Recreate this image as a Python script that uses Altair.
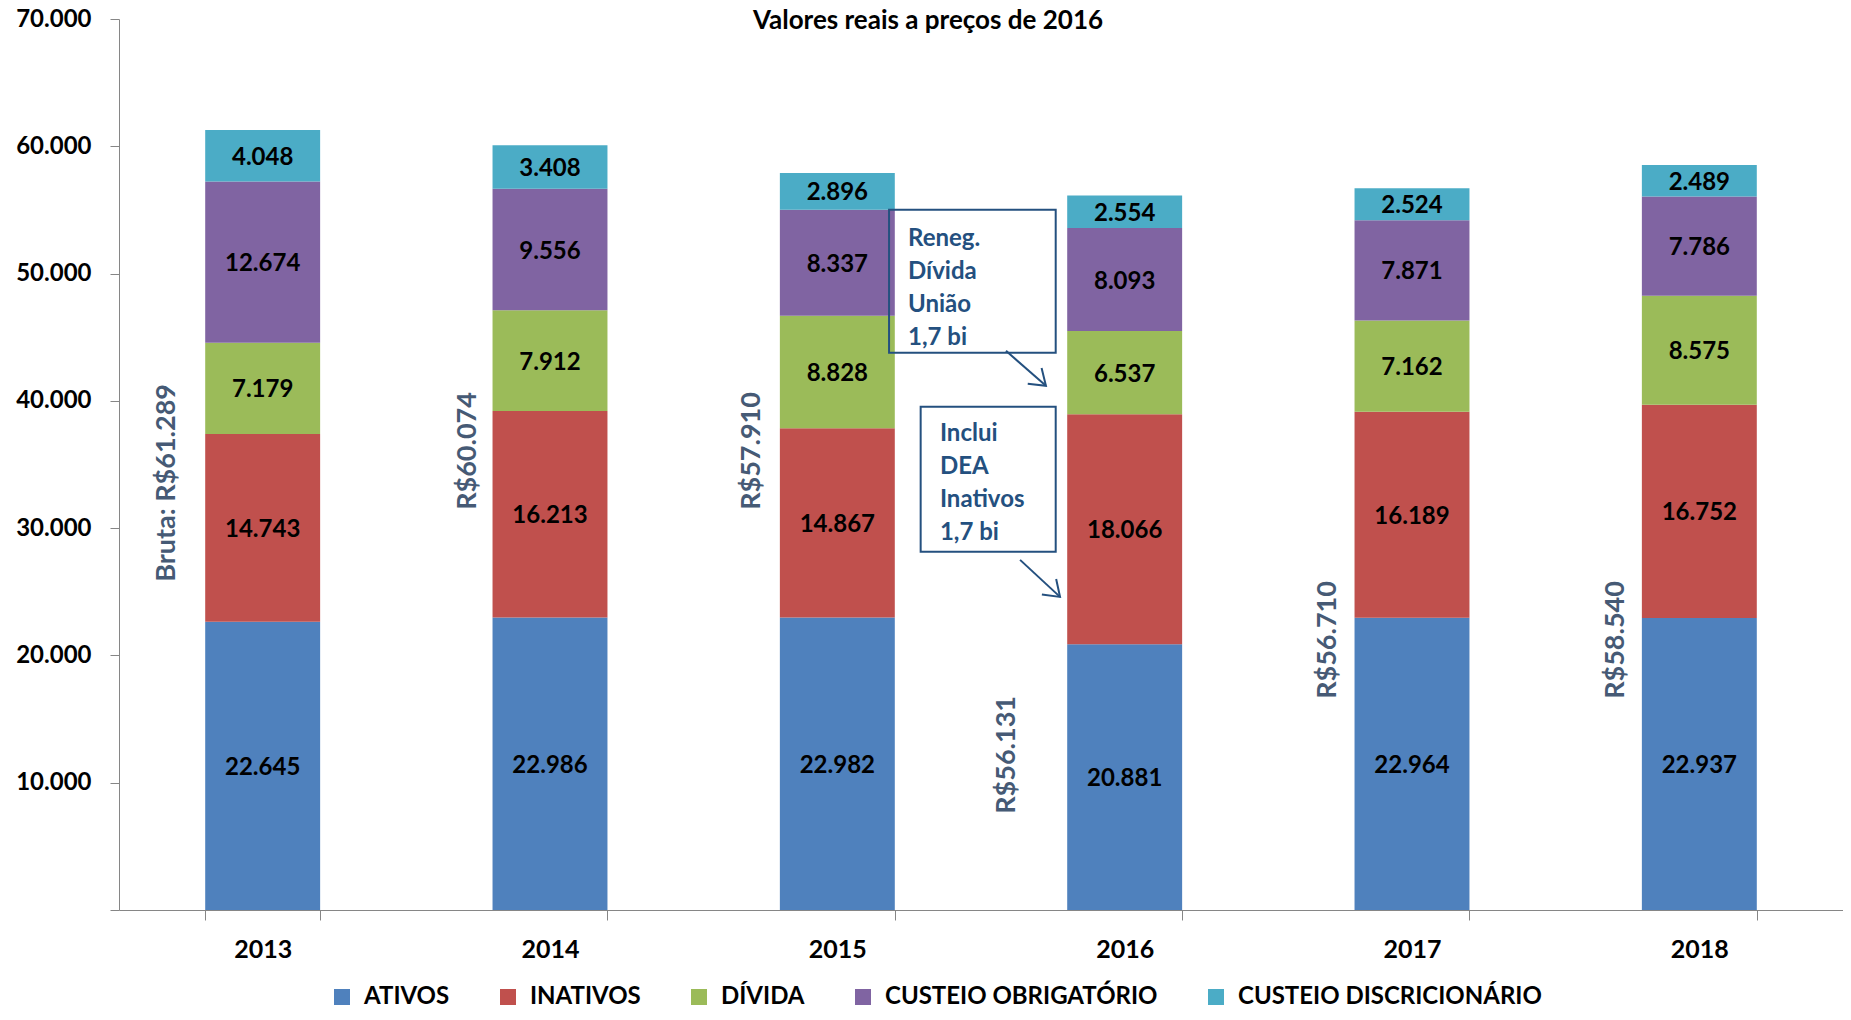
import math
import altair as alt
import pandas as pd

# ---------------- data ----------------
years = ["2013", "2014", "2015", "2016", "2017", "2018"]
series = ["ATIVOS", "INATIVOS", "DÍVIDA", "CUSTEIO OBRIGATÓRIO", "CUSTEIO DISCRICIONÁRIO"]
colors = ["#4F81BD", "#C0504D", "#9BBB59", "#8064A2", "#4BACC6"]

ativos = [22645, 22986, 22982, 20881, 22964, 22937]
inativos = [14743, 16213, 14867, 18066, 16189, 16752]
divida = [7179, 7912, 8828, 6537, 7162, 8575]
custeio_obr = [12674, 9556, 8337, 8093, 7871, 7786]
custeio_disc = [4048, 3408, 2896, 2554, 2524, 2489]

title_text = "Valores reais a preços de 2016"

# totals written vertically beside each bar (x in category units 0..6, y in R$ units)
total_labels = ["Bruta: R$61.289", "R$60.074", "R$57.910", "R$56.131", "R$56.710", "R$58.540"]
total_label_x = [0.167, 1.216, 2.203, 3.090, 4.208, 5.210]
total_label_y = [25780, 31440, 31440, 7560, 16590, 16590]

# call-out notes
note_texts = ["Reneg.\nDívida\nUnião\n1,7 bi", "Inclui\nDEA\nInativos\n1,7 bi"]
note_x = [2.746, 2.857]
note_y = [53640, 38310]
box_x1 = [2.680, 2.790]
box_x2 = [3.260, 3.260]
box_y1 = [55010, 39530]
box_y2 = [43775, 28136]
arrow_x1 = [3.087, 3.136]
arrow_y1 = [43932, 27507]
arrow_x2 = [3.226, 3.275]
arrow_y2 = [41182, 24599]

# ---------------- layout ----------------
W, H = 1724, 891
STEP = W / 6.0
PX_PER_UNIT_Y = H / 70000.0
FONT = "Lato"
NOTE_COLOR = "#24507F"
TOTAL_COLOR = "#465A75"
AXIS_COLOR = "#868686"

values_by_series = [ativos, inativos, divida, custeio_obr, custeio_disc]
rows = []
for i, yr in enumerate(years):
    for j, s in enumerate(series):
        v = values_by_series[j][i]
        rows.append({"year": yr, "serie": s, "ord": j, "value": v,
                     "label": f"{v:,}".replace(",", ".")})
df = pd.DataFrame(rows)

tot_df = pd.DataFrame({"t": total_labels, "x": total_label_x, "y": total_label_y})
note_df = pd.DataFrame({"t": note_texts, "x": note_x, "y": note_y})
box_df = pd.DataFrame({"x1": box_x1, "x2": box_x2, "y1": box_y1, "y2": box_y2})
ang = [math.degrees(math.atan2((arrow_y1[k] - arrow_y2[k]) * PX_PER_UNIT_Y,
                               (arrow_x2[k] - arrow_x1[k]) * STEP)) for k in range(2)]
arr_df = pd.DataFrame({"x1": arrow_x1, "y1": arrow_y1, "x2": arrow_x2, "y2": arrow_y2, "ang": ang})

xband = alt.Scale(domain=years, paddingInner=0.6, paddingOuter=0.3)
xunit = alt.Scale(domain=[0, 6], nice=False, zero=False)
yscale = alt.Scale(domain=[0, 70000], nice=False)

base = alt.Chart(df).transform_stack(
    stack="value", groupby=["year"], as_=["y0", "y1"],
    sort=[alt.SortField("ord", order="ascending")]
).transform_calculate(mid="(datum.y0 + datum.y1) / 2")

bars = base.mark_bar().encode(
    x=alt.X("year:N", scale=xband,
            axis=alt.Axis(title=None, labelAngle=0, labelFont=FONT, labelFontSize=25,
                          labelFontWeight="bold", labelColor="black", tickBand="extent",
                          tickSize=10, tickColor=AXIS_COLOR, domainColor=AXIS_COLOR,
                          labelPadding=17, grid=False)),
    y=alt.Y("y0:Q", scale=yscale,
            axis=alt.Axis(title=None, values=list(range(0, 70001, 10000)),
                          labelExpr="datum.value == 0 ? '' : replace(format(datum.value, ','), ',', '.')",
                          labelFont=FONT, labelFontSize=24, labelFontWeight="bold",
                          labelColor="black", tickSize=9, tickColor=AXIS_COLOR,
                          domainColor=AXIS_COLOR, labelPadding=19, grid=False)),
    y2="y1:Q",
    color=alt.Color("serie:N", scale=alt.Scale(domain=series, range=colors),
                    legend=alt.Legend(title=None, orient="none", direction="horizontal",
                                      legendX=211, legendY=966, symbolType="square",
                                      symbolSize=256, symbolStrokeWidth=0,
                                      labelFont=FONT, labelFontSize=24,
                                      labelFontWeight="bold", labelColor="black",
                                      labelLimit=600, labelOffset=10,
                                      columnPadding=46, padding=0)),
)

seg_text = base.mark_text(font=FONT, fontSize=24, fontWeight="bold", color="black",
                          baseline="middle", align="center", dy=2).encode(
    x=alt.X("year:N", scale=xband, axis=None),
    y=alt.Y("mid:Q", title=None),
    text="label:N",
)

totals = alt.Chart(tot_df).mark_text(font=FONT, fontSize=27, fontWeight="bold",
                                     color=TOTAL_COLOR, angle=270, align="left",
                                     baseline="middle").encode(
    x=alt.X("x:Q", scale=xunit, axis=None),
    y=alt.Y("y:Q", title=None),
    text="t:N",
)

boxes = alt.Chart(box_df).mark_rect(fill="white", fillOpacity=0, stroke=NOTE_COLOR,
                                    strokeWidth=2).encode(
    x=alt.X("x1:Q", scale=xunit, axis=None),
    x2="x2:Q",
    y=alt.Y("y1:Q", title=None),
    y2="y2:Q",
)

notes = alt.Chart(note_df).mark_text(font=FONT, fontSize=24, fontWeight="bold",
                                     color=NOTE_COLOR, align="left", baseline="top",
                                     lineBreak="\n", lineHeight=33).encode(
    x=alt.X("x:Q", scale=xunit, axis=None),
    y=alt.Y("y:Q", title=None),
    text="t:N",
)

shafts = alt.Chart(arr_df).mark_rule(color=NOTE_COLOR, strokeWidth=2).encode(
    x=alt.X("x1:Q", scale=xunit, axis=None),
    x2="x2:Q",
    y=alt.Y("y1:Q", title=None),
    y2="y2:Q",
)

heads = alt.Chart(arr_df).mark_point(shape="M -1 -0.7 L 0 0 L -1 0.7", filled=False,
                                     stroke=NOTE_COLOR, strokeWidth=2, size=900,
                                     opacity=1).encode(
    x=alt.X("x2:Q", scale=xunit, axis=None),
    y=alt.Y("y2:Q", title=None),
    angle=alt.Angle("ang:Q", scale=None),
)

chart = alt.layer(bars, seg_text, totals, boxes, notes, shafts, heads).resolve_scale(
    x="independent"
).properties(
    width=W, height=H,
    autosize=alt.AutoSizeParams(type="none"),
    padding={"left": 111, "top": 11, "right": 0, "bottom": 102},
    title=alt.TitleParams(title_text, font=FONT, fontSize=26, fontWeight="bold",
                          color="black", anchor="middle", dx=-53, offset=-27),
).configure_view(stroke=None)

chart.save("out.html", embed_options={"renderer": "svg", "actions": False})
